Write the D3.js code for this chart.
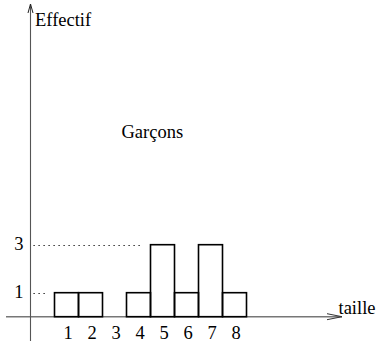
<!DOCTYPE html>
<html><head><meta charset="utf-8">
<script src="https://cdn.jsdelivr.net/npm/d3@7"></script>
<style>html,body{margin:0;padding:0;background:#fff;}svg{display:block;}</style>
</head><body>
<svg id="c" width="380" height="347"></svg>
<script>
const categories = [1, 2, 3, 4, 5, 6, 7, 8];
const values = [1, 1, 0, 1, 3, 1, 3, 1];
const yTicks = [1, 3];
const title = "Garçons";
const xLabel = "taille";
const yLabel = "Effectif";

const svg = d3.select("#c");
const font = "'Liberation Serif', 'Times New Roman', 'DejaVu Serif', serif";
const fs = 18.5;

const x = d3.scaleBand().domain(categories).range([54.5, 246.5]).padding(0);
const y = d3.scaleLinear().domain([0, 3]).range([316.7, 244.7]);
const axisX = 30.5, axisY = 316.7;

// dotted guides
svg.selectAll("line.guide").data(yTicks).enter().append("line")
  .attr("x1", axisX + 3).attr("x2", d => d === 3 ? 140 : 48)
  .attr("y1", d => Math.round(y(d)) + 0.5).attr("y2", d => Math.round(y(d)) + 0.5)
  .attr("stroke", "#000").attr("stroke-width", 1.2).attr("stroke-dasharray", "1.2,3.8");

// axes
svg.append("line").attr("x1", 6).attr("x2", 342).attr("y1", axisY).attr("y2", axisY)
  .attr("stroke", "#777").attr("stroke-width", 1.4);
svg.append("line").attr("x1", axisX).attr("x2", axisX).attr("y1", 4).attr("y2", 341)
  .attr("stroke", "#555").attr("stroke-width", 1.1);
// arrowheads
svg.append("path").attr("d", `M${axisX - 2.5},13 L${axisX},4 L${axisX + 2.5},13`)
  .attr("fill", "none").attr("stroke", "#222").attr("stroke-width", 1);
svg.append("path").attr("d", `M327,${axisY - 3} L342,${axisY} L327,${axisY + 3}`)
  .attr("fill", "none").attr("stroke", "#333").attr("stroke-width", 1);

// bars
svg.selectAll("rect.bar").data(categories.map((c, i) => ({c, v: values[i]})).filter(d => d.v > 0))
  .enter().append("rect")
  .attr("x", d => x(d.c)).attr("width", x.bandwidth())
  .attr("y", d => y(d.v)).attr("height", d => y(0) - y(d.v))
  .attr("fill", "none").attr("stroke", "#000").attr("stroke-width", 1.6);

// x tick labels
svg.selectAll("text.xt").data(categories).enter().append("text")
  .attr("x", d => x(d) + x.bandwidth() / 2 + 1.5).attr("y", 338.5)
  .attr("text-anchor", "middle").attr("font-family", font).attr("font-size", fs)
  .text(d => d);

// y tick labels
svg.selectAll("text.yt").data(yTicks).enter().append("text")
  .attr("x", 23.5).attr("y", d => y(d) + 5.5)
  .attr("text-anchor", "end").attr("font-family", font).attr("font-size", fs)
  .text(d => d);

svg.append("text").attr("x", 35).attr("y", 25.5).attr("font-family", font).attr("font-size", fs).text(yLabel);
svg.append("text").attr("x", 338.5).attr("y", 313.5).attr("font-family", font).attr("font-size", fs).text(xLabel);
svg.append("text").attr("x", 121.5).attr("y", 138.3).attr("font-family", font).attr("font-size", fs).text(title);
</script>
</body></html>
